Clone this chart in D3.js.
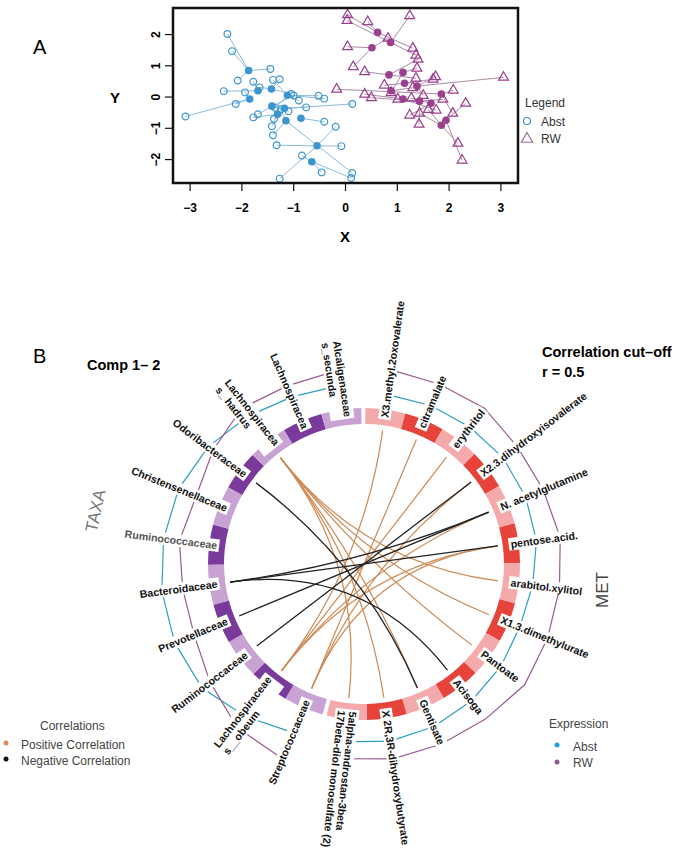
<!DOCTYPE html>
<html>
<head>
<meta charset="utf-8">
<script src="https://cdn.jsdelivr.net/npm/d3@7"></script>
<style>
  body { margin: 0; background: #fff; }
  svg { display: block; font-family: "Liberation Sans", Arial, sans-serif; }
</style>
</head>
<body>
<svg id="chart" width="693" height="854"></svg>
<script>
// ---------- panel A data: open points [x, y, hub index] and hubs [x, y]
var abstHubs = [
  [-1.87, 0.85], [-1.69, 0.2], [-1.85, -0.06], [-1.43, 0.26], [-1.12, 0.06], [-1.42, -0.29],
  [-1.18, -0.36], [-1.31, -0.55], [-1.15, -0.76], [-0.86, -0.68], [-0.55, -1.56], [-0.65, -2.07]
];
var abstPts = [
  [-2.28, 2.02, 0], [-2.19, 1.47, 0], [-1.45, 0.9, 0], [-1.27, 0.57, 3], [-2.08, 0.53, 0],
  [-1.78, 0.49, 1], [-2.35, 0.19, 1], [-1.94, 0.15, 2], [-1.66, 0.31, 3], [-0.52, 0.04, 4],
  [-0.41, -0.05, 4], [-0.9, -0.11, 4], [0.13, -0.22, 6], [-2.12, -0.22, 2], [-3.09, -0.62, 2],
  [-1.78, -0.65, 7], [-1.69, -0.55, 5], [-0.76, -0.33, 6], [-0.41, -0.79, 9], [-0.19, -0.95, 10],
  [-1.42, -0.93, 7], [-1.4, -1.22, 8], [-1.33, -1.54, 10], [-0.84, -1.87, 11], [-0.08, -1.57, 10],
  [-0.46, -2.41, 11], [-1.27, -2.61, 10], [0.13, -2.43, 8], [0.11, -2.59, 11], [-1.05, 0.1, 3],
  [-1.4, 0.55, 4], [-1.0, 0.05, 5], [-1.35, -0.35, 4], [-1.1, -0.45, 5], [-1.38, -0.7, 6], [-1.25, -0.4, 8]
];
var rwHubs = [
  [0.62, 2.07], [0.87, 1.75], [0.51, 1.58], [0.84, 0.71], [1.11, 0.79], [1.14, 0.44], [1.38, 0.35],
  [0.88, 0.2], [1.11, -0.06], [1.43, -0.13], [1.65, -0.2], [1.85, 0.1], [1.85, -0.9], [1.94, -0.74]
];
var rwPts = [
  [0.04, 2.63, 0], [0.03, 2.45, 1], [0.43, 2.41, 0], [1.24, 2.6, 1], [0.04, 1.61, 2], [0.82, 1.88, 2],
  [1.3, 1.56, 0], [1.36, 1.34, 1], [1.4, 1.21, 3], [0.15, 0.97, 2], [0.37, 0.81, 3], [1.38, 0.92, 4],
  [1.74, 0.65, 6], [1.69, 0.57, 5], [3.05, 0.63, 6], [-0.17, 0.25, 11], [0.75, 0.38, 5], [0.37, 0.09, 8],
  [0.5, -0.02, 9], [0.88, 0.14, 4], [1.01, -0.07, 7], [1.27, -0.04, 10], [2.08, 0.22, 11], [1.88, -0.07, 9],
  [2.32, -0.2, 13], [1.75, -0.42, 8], [1.24, -0.58, 10], [1.43, -0.52, 12], [2.07, -0.52, 11],
  [1.42, -0.87, 9], [2.17, -1.48, 12], [2.25, -2.02, 13], [1.36, 0.6, 3], [1.3, 0.3, 7], [1.5, 0.05, 6], [1.6, -0.4, 12]
];
var xTicks = [-3, -2, -1, 0, 1, 2, 3];
var yTicks = [-2, -1, 0, 1, 2];

// ---------- panel B data
var metNames = [
  ['X3.methyl.2oxovalerate'], ['citramalate'], ['erythritol'], ['X2.3.dihydroxyisovalerate'],
  ['N. acetylglutamine'], ['pentose.acid.'], ['arabitol.xylitol'], ['X1.3.dimethylurate'],
  ['Pantoate'], ['Acisoga'], ['Gentisate'], ['X 2R,3R-dihydroxybutyrate'],
  ['5alpha-androstan-3beta', '17beta-diol monosulfate (2)']
];
var taxaNames = [
  ['Streptococcaceae'], ['Lachnospiraceae', 's__obeum'], ['Ruminococcaceae'], ['Prevotellaceae'],
  ['Bacteroidaceae'], ['Ruminococcaceae'], ['Christensenellaceae'], ['Odoribacteraceae'],
  ['Lachnospiracea', 's_ hadrus'], ['Lachnospiracea'], ['Alcaligenaceae', 's_secunda']
];
var metAbst = [0.22, 0.24, 0.26, 0.30, 0.30, 0.28, 0.20, 0.16, 0.22, 0.28, 0.34, 0.38, 0.38];
var metRW = [0.72, 0.70, 0.74, 0.66, 0.68, 0.76, 0.74, 0.76, 0.82, 0.74, 0.72, 0.74, 0.72];
var taxaAbst = [0.46, 0.66, 0.88, 0.90, 0.88, 0.84, 0.80, 0.70, 0.56, 0.44, 0.40];
var taxaRW = [1.02, 0.94, 0.68, 0.48, 0.46, 0.52, 0.42, 0.58, 0.76, 0.68, 0.70];
// links [taxa index, met index]
var posLinks = [
  [8, 6], [8, 7], [8, 8], [8, 10], [8, 11], [8, 12],
  [1, 0], [1, 2], [1, 4], [1, 5],
  [0, 1], [0, 3], [0, 5]
];
var negLinks = [[7, 10], [4, 9], [4, 5], [4, 4], [3, 4], [2, 3]];

var svg = d3.select('#chart');

// ================= PANEL A =================
var ax = d3.scaleLinear().domain([-3.33, 3.33]).range([173, 518]);
var ay = d3.scaleLinear().domain([-2.75, 2.85]).range([183, 8]);
var pa = svg.append('g');

pa.append('text').attr('x', 33).attr('y', 54).attr('font-size', 20).text('A');

function drawGroup(hubs, pts, lineCol, col, shape) {
  pa.append('g').selectAll('line').data(pts).enter().append('line')
    .attr('x1', function (d) { return ax(d[0]); })
    .attr('y1', function (d) { return ay(d[1]); })
    .attr('x2', function (d) { return ax(hubs[d[2]][0]); })
    .attr('y2', function (d) { return ay(hubs[d[2]][1]); })
    .attr('stroke', lineCol).attr('stroke-width', 1);
  var sym = d3.symbol().type(shape === 'tri' ? d3.symbolTriangle : d3.symbolCircle).size(shape === 'tri' ? 42 : 36);
  pa.append('g').selectAll('path').data(pts).enter().append('path')
    .attr('d', sym)
    .attr('transform', function (d) { return 'translate(' + ax(d[0]) + ',' + ay(d[1]) + ')'; })
    .attr('fill', 'none').attr('stroke', col).attr('stroke-width', 1.2);
  pa.append('g').selectAll('circle').data(hubs).enter().append('circle')
    .attr('cx', function (d) { return ax(d[0]); })
    .attr('cy', function (d) { return ay(d[1]); })
    .attr('r', 3.8).attr('fill', col);
}
drawGroup(abstHubs, abstPts, '#8dbbdc', '#3b95cf', 'circle');
drawGroup(rwHubs, rwPts, '#a98aa4', '#9b3f8f', 'tri');

pa.append('rect').attr('x', 173).attr('y', 8).attr('width', 345).attr('height', 175)
  .attr('fill', 'none').attr('stroke', '#111').attr('stroke-width', 2.5);

pa.selectAll('.xt').data(xTicks).enter().append('line')
  .attr('x1', ax).attr('x2', ax).attr('y1', 184).attr('y2', 191)
  .attr('stroke', '#111').attr('stroke-width', 1.2);
pa.selectAll('.xl').data(xTicks).enter().append('text')
  .attr('x', ax).attr('y', 212).attr('text-anchor', 'middle')
  .attr('font-size', 12).attr('font-weight', 'bold').text(function (d) { return d < 0 ? '\u2212' + (-d) : d; });
pa.selectAll('.yt').data(yTicks).enter().append('line')
  .attr('x1', 172).attr('x2', 165).attr('y1', ay).attr('y2', ay)
  .attr('stroke', '#111').attr('stroke-width', 1.2);
pa.selectAll('.yl').data(yTicks).enter().append('text')
  .attr('transform', function (d) { return 'translate(160,' + ay(d) + ') rotate(-90)'; })
  .attr('text-anchor', 'middle')
  .attr('font-size', 12).attr('font-weight', 'bold').text(function (d) { return d < 0 ? '\u2212' + (-d) : d; });

pa.append('text').attr('x', 345).attr('y', 242).attr('text-anchor', 'middle')
  .attr('font-size', 15).attr('font-weight', 'bold').text('X');
pa.append('text').attr('x', 115).attr('y', 103).attr('text-anchor', 'middle')
  .attr('font-size', 15).attr('font-weight', 'bold').text('Y');

// legend A
pa.append('text').attr('x', 525).attr('y', 107).attr('font-size', 12).attr('fill', '#333').text('Legend');
pa.append('circle').attr('cx', 527).attr('cy', 121).attr('r', 3.5).attr('fill', 'none').attr('stroke', '#3b95cf').attr('stroke-width', 1.2);
pa.append('text').attr('x', 541).attr('y', 126).attr('font-size', 12).attr('fill', '#333').text('Abst');
pa.append('path').attr('d', d3.symbol().type(d3.symbolTriangle).size(55)).attr('transform', 'translate(527,139)')
  .attr('fill', 'none').attr('stroke', '#9b6f96').attr('stroke-width', 1.2);
pa.append('text').attr('x', 541).attr('y', 143).attr('font-size', 12).attr('fill', '#333').text('RW');

// ================= PANEL B =================
var cx = 364, cy = 564;
var rIn = 140, rOut = 156, labelR = 148, linkR = 135;
var gap = 1.5;
var unit = (360 - 2 * gap) / (metNames.length + taxaNames.length);
var metStart = -89.5, metEnd = metStart + metNames.length * unit;
var taxaStart = metEnd + gap, taxaEnd = taxaStart + taxaNames.length * unit;
var metAng = d3.scaleLinear().domain([0, metNames.length]).range([metStart, metEnd]);
var taxaAng = d3.scaleLinear().domain([0, taxaNames.length]).range([taxaStart, taxaEnd]);
var rS = d3.scaleLinear().domain([0, 1]).range([160, 210]);
function rad(deg) { return (deg + 90) * Math.PI / 180; }
function pt(deg, r) { var a = deg * Math.PI / 180; return [r * Math.cos(a), r * Math.sin(a)]; }

var pb = svg.append('g').attr('transform', 'translate(' + cx + ',' + cy + ')');

// ring segments
var arc = d3.arc().innerRadius(rIn).outerRadius(rOut);
pb.append('g').selectAll('path').data(metNames).enter().append('path')
  .attr('d', function (d, i) { return arc({ startAngle: rad(metAng(i)), endAngle: rad(metAng(i + 1)) }); })
  .attr('fill', function (d, i) { return i % 2 ? '#e6433a' : '#f4a9ab'; });
pb.append('g').selectAll('path').data(taxaNames).enter().append('path')
  .attr('d', function (d, i) { return arc({ startAngle: rad(taxaAng(i)), endAngle: rad(taxaAng(i + 1)) }); })
  .attr('fill', function (d, i) { return i % 2 ? '#7a3a9c' : '#c8a2d3'; });

// expression lines
function exprLine(vals, angS, col) {
  var line = d3.lineRadial()
    .angle(function (d, i) { return rad(angS(i + 0.5)); })
    .radius(function (d) { return rS(d); });
  pb.append('path').attr('d', line(vals)).attr('fill', 'none')
    .attr('stroke', col).attr('stroke-width', 1.2);
}
exprLine(metAbst, metAng, '#2c9fc0');
exprLine(metRW, metAng, '#9a5a8f');
exprLine(taxaAbst, taxaAng, '#2c9fc0');
exprLine(taxaRW, taxaAng, '#9a5a8f');

// links
function drawLinks(links, col, w) {
  pb.append('g').selectAll('path').data(links).enter().append('path')
    .attr('d', function (d) {
      var p0 = pt(taxaAng(d[0] + 0.5), linkR), p1 = pt(metAng(d[1] + 0.5), linkR);
      var p = d3.path();
      p.moveTo(p0[0], p0[1]);
      p.quadraticCurveTo(0, 0, p1[0], p1[1]);
      return p.toString();
    })
    .attr('fill', 'none').attr('stroke', col).attr('stroke-width', w);
}
drawLinks(posLinks, '#cd8a55', 1.2);
drawLinks(negLinks, '#222', 1.3);

// labels
var lh = 11.5;
function addLabel(deg, lines, outward, col) {
  var g = pb.append('g').attr('transform', 'rotate(' + deg + ') translate(' + labelR + ',0)' + (outward ? '' : ' rotate(180)'));
  var bg = g.append('rect').attr('fill', '#fff');
  var n = lines.length, W = 0;
  var ts = lines.map(function (s, i) {
    var t = g.append('text').attr('font-size', 10.6).attr('font-weight', 'bold').attr('fill', col || '#111')
      .attr('y', (i - (n - 1) / 2) * lh + 3.8).text(s);
    W = Math.max(W, t.node().getComputedTextLength());
    return t;
  });
  ts.forEach(function (t) { t.attr('x', outward ? 0 : -W); });
  bg.attr('x', outward ? -2 : -W - 2).attr('width', W + 4)
    .attr('y', -n * lh / 2 - 0.5).attr('height', n * lh + 1);
}
metNames.forEach(function (d, i) { addLabel(metAng(i + 0.5), d, true); });
taxaNames.forEach(function (d, i) { addLabel(taxaAng(i + 0.5), d, false, i === 5 ? '#555' : '#111'); });

// titles
svg.append('text').attr('x', 33).attr('y', 363).attr('font-size', 20).text('B');
svg.append('text').attr('x', 87).attr('y', 370).attr('font-size', 14.5).attr('font-weight', 'bold').text('Comp 1\u2013 2');
svg.append('text').attr('x', 542).attr('y', 357).attr('font-size', 14.5).attr('font-weight', 'bold').text('Correlation cut\u2013off');
svg.append('text').attr('x', 542).attr('y', 377).attr('font-size', 14.5).attr('font-weight', 'bold').text('r = 0.5');
svg.append('text').attr('transform', 'translate(101,512) rotate(-78)').attr('text-anchor', 'middle')
  .attr('font-size', 17).attr('fill', '#777').text('TAXA');
svg.append('text').attr('transform', 'translate(608,590) rotate(-90)').attr('text-anchor', 'middle')
  .attr('font-size', 17).attr('fill', '#444').text('MET');

// legends B
svg.append('text').attr('x', 40).attr('y', 730).attr('font-size', 12).attr('fill', '#444').text('Correlations');
svg.append('circle').attr('cx', 6).attr('cy', 743).attr('r', 2.5).attr('fill', '#e08b5c');
svg.append('text').attr('x', 21).attr('y', 749).attr('font-size', 12).attr('fill', '#444').text('Positive Correlation');
svg.append('circle').attr('cx', 6).attr('cy', 759).attr('r', 2.5).attr('fill', '#111');
svg.append('text').attr('x', 21).attr('y', 765).attr('font-size', 12).attr('fill', '#444').text('Negative Correlation');

svg.append('text').attr('x', 549).attr('y', 728).attr('font-size', 12).attr('fill', '#444').text('Expression');
svg.append('circle').attr('cx', 557).attr('cy', 745).attr('r', 2.5).attr('fill', '#1fa0dc');
svg.append('text').attr('x', 573).attr('y', 751).attr('font-size', 12).attr('fill', '#444').text('Abst');
svg.append('circle').attr('cx', 557).attr('cy', 762).attr('r', 2.5).attr('fill', '#8e5a8c');
svg.append('text').attr('x', 573).attr('y', 767).attr('font-size', 12).attr('fill', '#444').text('RW');
</script>
</body>
</html>
